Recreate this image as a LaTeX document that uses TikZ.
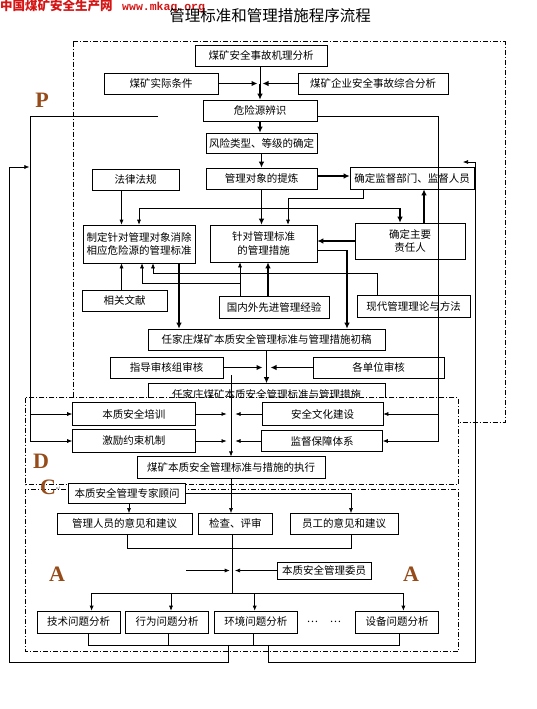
\documentclass[tikz,border=0pt]{standalone}
\usepackage{fontspec}
\usetikzlibrary{arrows.meta}
\newfontfamily\cjk{Noto Sans CJK SC}
\newfontfamily\monofnt{Liberation Mono}
\newfontfamily\serifb{Liberation Serif}
\newfontfamily\dejavu{DejaVu Sans}
\newcommand\boxfont{\cjk\fontsize{10.5}{13.5}\selectfont}
\newcommand\labfont{\serifb\bfseries\fontsize{22}{22}\selectfont}
\definecolor{labbrown}{RGB}{150,75,25}
\definecolor{hdred}{RGB}{215,20,20}
\begin{document}
\begin{tikzpicture}[x=1pt,y=-1pt,
  box/.style={draw, fill=white, line width=0.6pt, inner sep=0pt, align=center, font=\boxfont},
  ln/.style={line width=0.6pt},
  ar/.style={line width=0.6pt, -{Latex[length=5pt,width=4pt]}},
  tar/.style={line width=1.8pt, -{Latex[length=6pt,width=5.5pt]}},
  frame/.style={line width=0.6pt, dash pattern=on 5pt off 2pt on 1pt off 2pt},
  lab/.style={font=\labfont, text=labbrown, inner sep=0pt},
]
\useasboundingbox (0,0) rectangle (536,709);
\fill[white] (0,0) rectangle (536,709);

% header and title
\node[anchor=west, inner sep=0pt, text=hdred, font=\cjk\bfseries\fontsize{12.5}{14}\selectfont] (hd) at (0,5.5) {中国煤矿安全生产网};
\node[anchor=west, inner sep=0pt, text=hdred, font=\monofnt\bfseries\fontsize{11.5}{12}\selectfont] (url) at (122,7.5) {www.mkaq.org};
\node[inner sep=0pt, font=\cjk\fontsize{15.5}{18}\selectfont] (title) at (270,15.5) {管理标准和管理措施程序流程};

% P frame
\draw[frame] (72.8,41.7) rectangle (505,422);

% P region boxes
\node[box, minimum width=132pt, minimum height=21pt] (jl) at (261,55.5) {煤矿安全事故机理分析};
\node[box, minimum width=114pt, minimum height=21pt] (sj) at (161,83.5) {煤矿实际条件};
\node[box, minimum width=150pt, minimum height=21pt] (zh) at (373,83.5) {煤矿企业安全事故综合分析};
\node[box, minimum width=114pt, minimum height=21pt] (wx) at (260,110.5) {危险源辨识};
\node[box, minimum width=111pt, minimum height=20pt] (fx) at (261.5,143) {风险类型、等级的确定};
\node[box, minimum width=111pt, minimum height=21pt] (dx) at (261.5,178.5) {管理对象的提炼};
\node[box, minimum width=124pt, minimum height=22pt] (jd) at (412,178) {确定监督部门、监督人员};
\node[box, minimum width=87pt, minimum height=21pt] (fl) at (135.5,179.5) {法律法规};
\node[box, minimum width=112pt, minimum height=38pt] (zd) at (139,244) {制定针对管理对象消除\\相应危险源的管理标准};
\node[box, minimum width=107pt, minimum height=37pt] (cs) at (263.5,243.5) {针对管理标准\\的管理措施};
\node[box, minimum width=110pt, minimum height=36pt] (zr) at (410,241) {确定主要\\责任人};
\node[box, minimum width=85pt, minimum height=21pt] (xg) at (124.5,300.5) {相关文献};
\node[box, minimum width=110pt, minimum height=22pt] (gn) at (274,307) {国内外先进管理经验};
\node[box, minimum width=113pt, minimum height=22pt] (xd) at (413.5,306) {现代管理理论与方法};
\node[box, minimum width=237pt, minimum height=21pt] (cg) at (266.5,339.5) {任家庄煤矿本质安全管理标准与管理措施初稿};
\node[box, minimum width=113pt, minimum height=21pt] (zs) at (166.5,367.5) {指导审核组审核};
\node[box, minimum width=131pt, minimum height=21pt] (gd) at (378.5,367.5) {各单位审核};
\node[box, minimum width=237pt, minimum height=22pt] (fin) at (266.5,394.5) {任家庄煤矿本质安全管理标准与管理措施};

% D and C frames (white filled, over the P frame)
\draw[frame, fill=white] (25.6,397.5) rectangle (458,484.5);
\draw[frame, fill=white] (25.6,489) rectangle (458,651.6);

% D region boxes
\node[box, minimum width=122.5pt, minimum height=23pt] (px) at (133.75,414) {本质安全培训};
\node[box, minimum width=121pt, minimum height=23pt] (wh) at (322.5,414) {安全文化建设};
\node[box, minimum width=122.5pt, minimum height=23pt] (jy) at (133.75,441) {激励约束机制};
\node[box, minimum width=121pt, minimum height=21pt] (jb) at (322,441) {监督保障体系};
\node[box, minimum width=187.6pt, minimum height=21.3pt] (zx) at (231,467.4) {煤矿本质安全管理标准与措施的执行};

% C region boxes
\node[box, minimum width=117pt, minimum height=20pt] (gw) at (127,493) {本质安全管理专家顾问};
\node[box, minimum width=134.6pt, minimum height=20.6pt] (gl) at (124.7,523.7) {管理人员的意见和建议};
\node[box, minimum width=74.5pt, minimum height=20.6pt] (jc) at (235.3,523.7) {检查、评审};
\node[box, minimum width=108pt, minimum height=20.6pt] (yg) at (344,523.7) {员工的意见和建议};
\node[box, minimum width=94pt, minimum height=17pt] (wy) at (324,570.5) {本质安全管理委员};
\node[box, minimum width=83.3pt, minimum height=21.8pt] (js) at (78.7,621.9) {技术问题分析};
\node[box, minimum width=83pt, minimum height=21.8pt] (xw) at (167,621.9) {行为问题分析};
\node[box, minimum width=83pt, minimum height=21.8pt] (hj) at (255.9,621.9) {环境问题分析};
\node[box, minimum width=82.7pt, minimum height=21.8pt] (sb) at (397,621.9) {设备问题分析};
\node[font=\boxfont, inner sep=0pt] (dots) at (324,622) {…\hspace{12pt}…};

% labels
\node[lab] (lP) at (42,100) {P};
\node[lab] (lD) at (41,461) {D};
\node[lab] (lC) at (48,487) {C};
\node[font=\dejavu\fontsize{6}{6}\selectfont, text=gray, inner sep=0pt] (lCm) at (58.5,489) {↵};
\node[lab] (lA1) at (57,574) {A};
\node[lab] (lA2) at (411,574) {A};

% ---- connectors, top part
\coordinate (m1) at (260,83.5);
\coordinate (m1l) at (257.5,83.5);
\coordinate (m1r) at (262.5,83.5);
\draw[ln] (jl.south -| m1) -- (m1);
\draw[tar] (m1) -- (m1 |- wx.north);
\draw[tar] (sj.east) -- (m1l);
\draw[tar] (zh.west) -- (m1r);
\draw[tar] (wx.south) -- (wx.south |- fx.north);
\draw[tar] (fx.south) -- (fx.south |- dx.north);
\draw[tar] ([yshift=2.5pt]dx.east) -- ([yshift=2.5pt]dx.east -| jd.west);
\draw[tar] (dx.south) -- (dx.south |- cs.north);
\coordinate (j1) at (288,198);
\draw[ar] ([xshift=-49pt]jd.south) |- (j1) -- (j1 |- cs.north);
\coordinate (h1) at (400,208);
\draw[ar] (h1) -| (zd.north);
\draw[tar] (h1) -- (h1 |- zr.north);
\draw[tar] ([xshift=14pt]zr.north) -- ([xshift=14pt]zr.north |- jd.south);
\draw[tar] (zr.west) -- (zr.west -| cs.east);
\draw[ar] ([xshift=-14pt]fl.south) -- ([xshift=-14pt]fl.south |- zd.north);
\draw[ar] ([xshift=-3pt]xg.north) -- ([xshift=-3pt]xg.north |- zd.south);
\coordinate (g1) at (240,283);
\coordinate (g2) at (142,283);
\draw[ar] (gn.north -| g1) -- (g1 |- cs.south);
\draw[ar] (g1) -- (g2) -- (g2 |- zd.south);
\draw[tar] ([xshift=-6pt]gn.north) -- ([xshift=-6pt]gn.north |- cs.south);
\coordinate (x1) at (377,273);
\coordinate (x2) at (153,273);
\draw[ar] (xd.north -| x1) -- (x1) -- (x2) -- (x2 |- zd.south);
\coordinate (c1) at (347,250);
\draw[ln] (cs.east |- c1) -- (c1);
\draw[tar] (c1) -- (c1 |- cg.north);
\draw[tar] ([xshift=40pt]zd.south) -- ([xshift=40pt]zd.south |- cg.north);
\coordinate (m2) at (266.5,367.5);
\draw[tar] (zs.east) -- ([xshift=-4pt]m2);
\draw[tar] (gd.west) -- ([xshift=4pt]m2);
\draw[tar] (cg.south) -- (fin.north);

% ---- side lines
\coordinate (s1) at (231,375);
\draw[ar] (s1) -- (s1 |- zx.north);
\coordinate (r1) at (438.6,116);
\draw[ar] ([yshift=-5.5pt]wx.east) -- (r1) |- (jb.east);
\draw[ar] (r1 |- wh.east) -- (wh.east);
\coordinate (l1) at (30,116);
\coordinate (l2) at (158,116);
\draw[ar] (l2) -- (l1) |- (jy.west);
\draw[ar] (l1 |- px.west) -- (px.west);

% ---- D arrows
\coordinate (dL) at (226.5,0);
\coordinate (dR) at (235.5,0);
\draw[ar] (px.east) -- (px.east -| dL);
\draw[ar] (wh.west) -- (wh.west -| dR);
\draw[ar] (jy.east) -- (jy.east -| dL);
\draw[ar] (jb.west) -- (jb.west -| dR);

% ---- C arrows
\draw[ar] (zx.south) -- (zx.south |- jc.north);
\draw[ar] (gw.east) -| ([xshift=7pt]yg.north);
\draw[ar] ([xshift=2pt]gw.south) -- ([xshift=2pt]gw.south |- gl.north);
\coordinate (k1) at (127,548);
\draw[ln] (gl.south -| k1) -- (k1) -| ([xshift=7pt]yg.south);
\coordinate (k2) at (232.5,593);
\draw[ln] (jc.south -| k2) -- (k2);
\coordinate (d1) at (91.6,593);
\coordinate (d2) at (403.4,593);
\coordinate (d3) at (171,593);
\coordinate (d4) at (254.7,593);
\draw[ln] (d1) -- (d2);
\draw[ar] (d1) -- (d1 |- js.north);
\draw[ar] (d3) -- (d3 |- xw.north);
\draw[ar] (d4) -- (d4 |- hj.north);
\draw[ar] (d2) -- (d2 |- sb.north);
\coordinate (w0) at (186,570.5);
\coordinate (w1) at (229.7,570.5);
\coordinate (w2) at (235,570.5);
\draw[ar] (w0) -- (w1);
\draw[ar] (wy.west) -- (w2);

% ---- bottom collection and feedback loops
\coordinate (b1) at (88.2,644.8);
\coordinate (b2) at (168.2,644.8);
\coordinate (b3) at (253,644.8);
\coordinate (b4) at (399.3,644.8);
\draw[ln] (js.south -| b1) -- (b1) -- (b4) -- (sb.south -| b4);
\draw[ln] (xw.south -| b2) -- (b2);
\draw[ln] (hj.south -| b3) -- (b3);
\coordinate (o1) at (228.4,644.8);
\coordinate (o2) at (9.2,662);
\coordinate (o3) at (29.4,167);
\draw[ar] (o1) |- (o2) |- (o3);
\coordinate (o4) at (268.4,644.8);
\coordinate (o5) at (475.2,662);
\coordinate (o6) at (463,162);
\draw[ar] (o4) |- (o5) |- (o6);
\end{tikzpicture}
\end{document}
